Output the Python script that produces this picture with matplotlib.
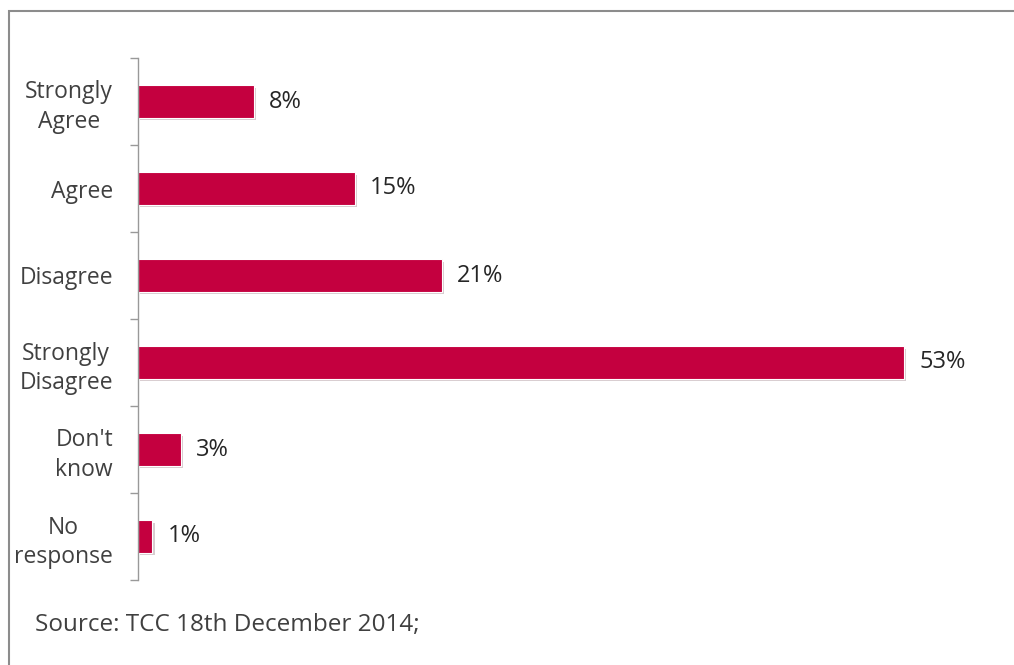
import matplotlib.pyplot as plt
import matplotlib.patheffects as pe
from matplotlib.patches import Rectangle

categories = ["Strongly\nAgree", "Agree", "Disagree", "Strongly\nDisagree", "Don't\nknow", "No\nresponse"]
values = [8, 15, 21, 53, 3, 1]
source_text = "Source: TCC 18th December 2014;"

plt.rcParams['font.family'] = ['Open Sans', 'DejaVu Sans']

W, H = 1014, 665
fig = plt.figure(figsize=(W / 100, H / 100), dpi=100)

# outer frame, cut by the right and bottom edges
fig.patches.append(Rectangle((9 / W, -0.05), 1.1, 1 - 11 / H + 0.05, transform=fig.transFigure,
                             fill=False, edgecolor='#8c8c8c', linewidth=1.5))

ax = fig.add_axes([138 / W, (H - 580) / H, (1000 - 138) / W, 522 / H])
y = list(range(len(categories)))
ax.barh(y, values, height=0.37, color='#c4003f', edgecolor='white', linewidth=0.8,
        path_effects=[pe.SimplePatchShadow(offset=(1.5, -2), alpha=0.2), pe.Normal()])

ax.set_xlim(0, 59.64)
ax.set_ylim(len(categories) - 0.5, -0.5)

for yi, v in zip(y, values):
    ax.annotate(f"{v}%", (v, yi), xytext=(15, 0), textcoords='offset pixels',
                ha='left', va='center', fontsize=17, color='#262626')

ax.set_yticks(y)
ax.set_yticklabels(categories, fontsize=16.5, color='#404040', linespacing=1.3,
                   multialignment='center')
ax.tick_params(axis='y', which='major', length=0, pad=18)
ax.set_yticks([i - 0.5 for i in range(len(categories) + 1)], minor=True)
ax.tick_params(axis='y', which='minor', length=6, color='#999999', width=1)
ax.set_xticks([])
for s in ['top', 'right', 'bottom']:
    ax.spines[s].set_visible(False)
ax.spines['left'].set_color('#999999')
ax.spines['left'].set_linewidth(1)

fig.text(35 / W, 1 - 625 / H, source_text, fontsize=17.5, color='#404040', va='center', ha='left')

fig.savefig('out.png', dpi=100)
